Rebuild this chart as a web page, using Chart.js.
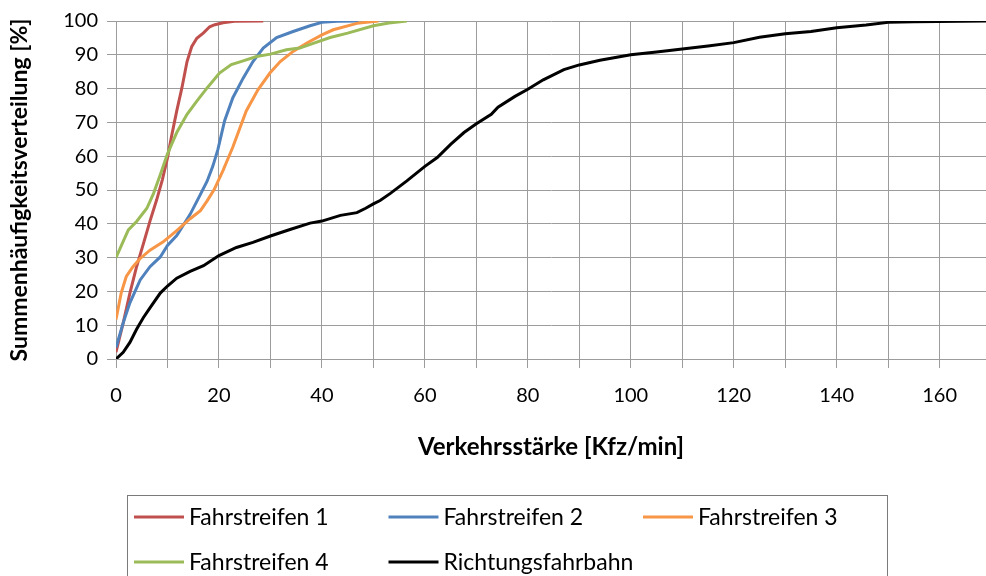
<!DOCTYPE html>
<html>
<head>
<meta charset="utf-8">
<script src="https://cdn.jsdelivr.net/npm/chart.js@4/dist/chart.umd.min.js"></script>
<style>
  body { margin: 0; background: #fff; }
  #wrap { width: 986px; height: 576px; }
</style>
</head>
<body>
<div id="wrap"><canvas id="myChart"></canvas></div>
<script>

// ---- data ----
const seriesNames = ["Fahrstreifen 1", "Fahrstreifen 2", "Fahrstreifen 3", "Fahrstreifen 4", "Richtungsfahrbahn"];
const seriesColors = ["#C0504D", "#4F81BD", "#F79646", "#9BBB59", "#000000"];

const f1X = [0, 1.4, 2.7, 4, 5.3, 6.6, 7.9, 9, 10, 10.8, 11.8, 12.8, 13.8, 14.7, 15.7, 17, 18.2, 19.2, 20.8, 23, 28.6];
const f1Y = [2, 10.7, 19.5, 27.3, 34, 40.8, 47.1, 53, 59.5, 66, 73.4, 80.2, 88, 92.4, 94.9, 96.5, 98.3, 98.9, 99.5, 99.9, 100];

const f2X = [0, 1.4, 2.7, 4.7, 6.6, 8.6, 10, 11.8, 14.4, 16.4, 17.7, 18.8, 19.8, 21.1, 22.7, 24.7, 26.6, 28.6, 31.2, 34.4, 37.7, 40, 43, 47];
const f2Y = [3.4, 10.7, 16.6, 23.4, 27.3, 30.2, 33.6, 36.5, 42.8, 48.7, 52.6, 57, 62, 70.5, 77.3, 83.1, 88, 92, 95.1, 96.9, 98.6, 99.6, 99.9, 100];

const f3X = [0, 1, 2, 3.3, 4.6, 6.6, 9.1, 11.8, 14.4, 16.4, 17.7, 19.1, 20.8, 22.7, 25.3, 27.6, 29.9, 31.9, 34.4, 37, 40, 42.2, 46.8, 51];
const f3Y = [11.7, 19.5, 24.4, 27.3, 29.6, 32.2, 34.6, 38, 41.5, 43.9, 46.8, 50.2, 55.8, 62.7, 73.4, 79.7, 84.6, 88, 91, 93.4, 95.9, 97.4, 99.3, 100];

const f4X = [0, 1.4, 2.4, 4, 6, 7.3, 8.6, 10, 11.8, 13.8, 15.7, 17.7, 20.1, 22.4, 24.7, 27.3, 30, 33.1, 35.7, 38.3, 41.6, 45, 50, 53, 56.5];
const f4Y = [30, 34.8, 38.2, 40.7, 44.6, 49, 54.5, 60.7, 67, 72.4, 76.3, 80.2, 84.6, 87.1, 88.2, 89.5, 90.2, 91.5, 92, 93.4, 95.1, 96.4, 98.6, 99.4, 100];

const rfX = [0, 1.4, 2.7, 4, 5.3, 6.6, 8.6, 10, 11.8, 14.4, 17, 20, 23.4, 26.6, 30, 33.8, 37.7, 40, 43.6, 46.8, 48.5, 50, 51.3, 53.3, 56.5, 60, 62.4, 65, 67.6, 70, 72.9, 74.2, 77.5, 80, 83, 87, 90, 94, 100, 105, 110, 115, 120, 125, 130, 135, 140, 145.7, 150, 155, 169];
const rfY = [0, 2, 4.9, 8.8, 12.2, 15.1, 19.5, 21.6, 23.9, 25.9, 27.6, 30.6, 33, 34.5, 36.4, 38.3, 40.2, 40.8, 42.5, 43.3, 44.6, 45.9, 46.9, 49, 52.7, 57, 59.6, 63.5, 67, 69.6, 72.4, 74.5, 77.7, 79.8, 82.6, 85.6, 87, 88.4, 90, 90.8, 91.7, 92.6, 93.6, 95.2, 96.2, 96.9, 98, 98.8, 99.6, 99.8, 100];

const xGridTicks = [0, 10, 20, 30, 40, 50, 60, 70, 80, 90, 100, 110, 120, 130, 140, 150, 160];
const xLabelStep = 20;
const xMax = 169;
const yTicks = [0, 10, 20, 30, 40, 50, 60, 70, 80, 90, 100];

const xTitle = "Verkehrsstärke [Kfz/min]";
const yTitle = "Summenhäufigkeitsverteilung [%]";

// ---- chart ----
const allX = [f1X, f2X, f3X, f4X, rfX];
const allY = [f1Y, f2Y, f3Y, f4Y, rfY];

const FONT = "Lato";
const gridColor = "#9c9c9c";

let datasets = [];
for (let i = 0; i < seriesNames.length; i++) {
  datasets.push({
    label: seriesNames[i],
    data: allX[i].map(function (x, k) { return { x: x, y: allY[i][k] }; }),
    borderColor: seriesColors[i],
    backgroundColor: seriesColors[i],
    borderWidth: 3,
    pointRadius: 0,
    tension: 0,
    fill: false,
    order: seriesNames.length - i
  });
}

// legend in a frame, three columns like the original
const boxLegend = {
  id: "boxLegend",
  afterDraw(chart) {
    const ctx = chart.ctx;
    ctx.save();
    ctx.strokeStyle = "#7a7a7a";
    ctx.lineWidth = 1;
    ctx.strokeRect(127.5, 495.5, 760, 100);

    ctx.font = "23px " + FONT;
    ctx.textBaseline = "middle";
    ctx.textAlign = "left";
    chart.data.datasets.forEach(function (ds, i) {
      const col = i % 3;
      const row = Math.floor(i / 3);
      const x = 134 + col * 254.5;
      const y = 517 + row * 45;
      ctx.strokeStyle = ds.borderColor;
      ctx.lineWidth = 3;
      ctx.beginPath();
      ctx.moveTo(x, y);
      ctx.lineTo(x + 50, y);
      ctx.stroke();
      ctx.fillStyle = "#000";
      ctx.fillText(ds.label, x + 55, y + 1);
    });
    ctx.restore();
  }
};

const ctx = document.getElementById("myChart");

new Chart(ctx, {
  type: "line",
  data: { datasets: datasets },
  options: {
    responsive: true,
    maintainAspectRatio: false,
    animation: false,
    layout: { padding: { top: 19, right: 0, bottom: 114, left: 0 } },
    plugins: {
      legend: { display: false },
      tooltip: { enabled: false }
    },
    scales: {
      x: {
        type: "linear",
        min: 0,
        max: xMax,
        afterBuildTicks: function (scale) {
          scale.ticks = xGridTicks.map(function (v) { return { value: v }; });
        },
        afterFit: function (scale) { scale.height = 103; },
        grid: { color: gridColor, lineWidth: 1, tickLength: 9, tickColor: gridColor },
        border: { color: gridColor },
        ticks: {
          autoSkip: false,
          maxRotation: 0,
          padding: 16,
          color: "#000",
          font: { family: FONT, size: 20 },
          callback: function (v) { return v % xLabelStep === 0 ? v : ""; }
        },
        title: {
          display: true,
          text: xTitle,
          color: "#000",
          font: { family: FONT, size: 24, weight: "bold" },
          padding: { top: 0, bottom: 0 }
        }
      },
      y: {
        min: 0,
        max: 100,
        afterBuildTicks: function (scale) {
          scale.ticks = yTicks.map(function (v) { return { value: v }; });
        },
        afterFit: function (scale) { scale.width = 116; },
        grid: { color: gridColor, lineWidth: 1, tickLength: 9, tickColor: gridColor },
        border: { color: gridColor },
        ticks: {
          padding: 9,
          color: "#000",
          font: { family: FONT, size: 20 }
        },
        title: {
          display: true,
          text: yTitle,
          color: "#000",
          font: { family: FONT, size: 23, weight: "bold" },
          padding: { top: 6, bottom: 0 }
        }
      }
    }
  },
  plugins: [boxLegend]
});
</script>
</body>
</html>
